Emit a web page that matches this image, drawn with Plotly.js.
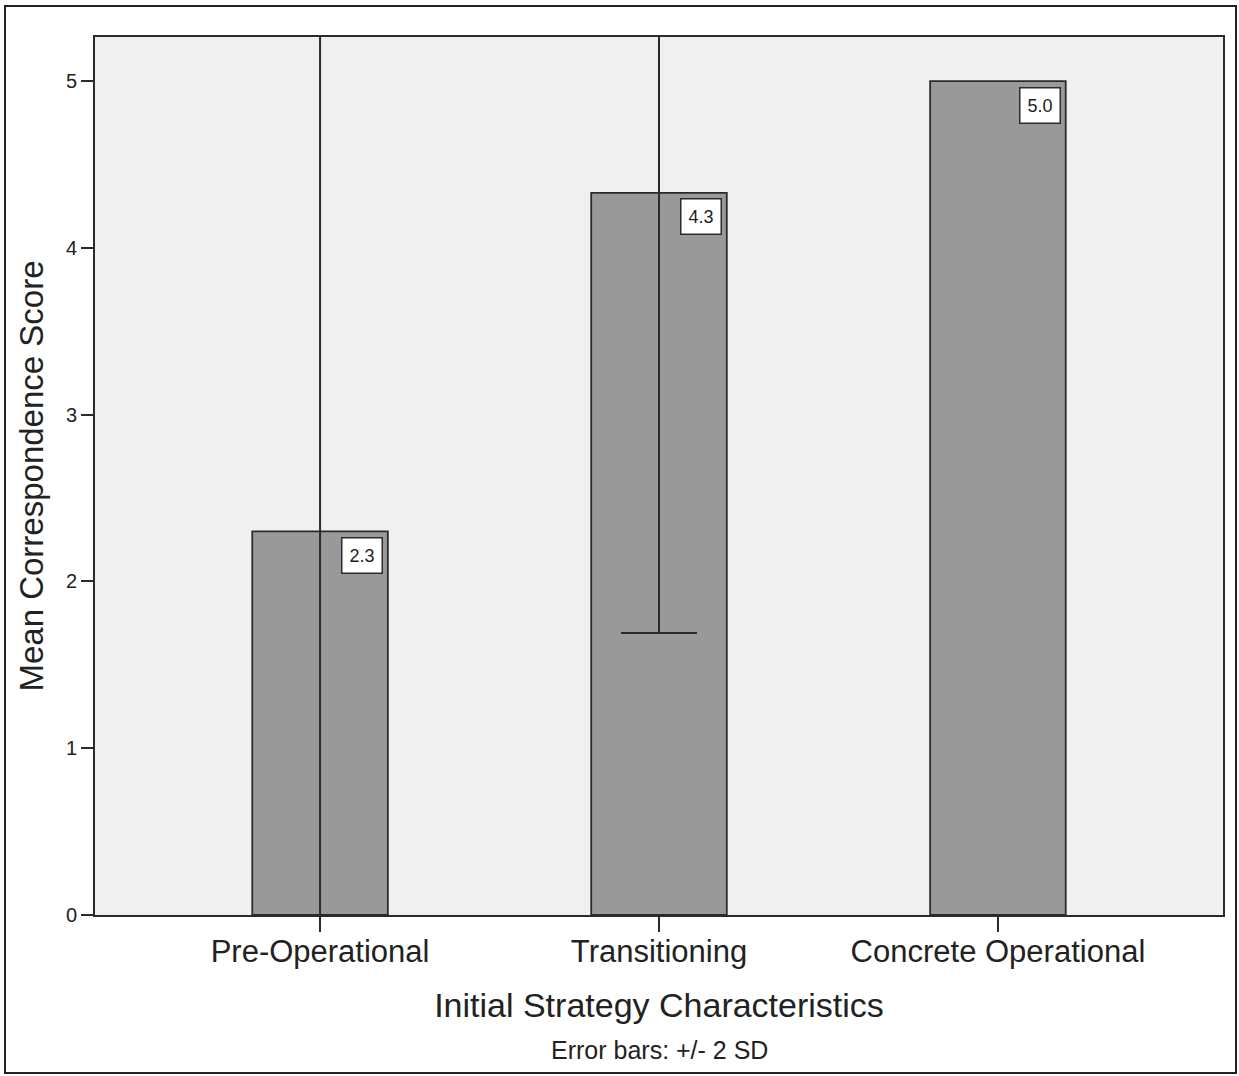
<!DOCTYPE html>
<html>
<head>
<meta charset="utf-8">
<script src="https://cdn.plot.ly/plotly-3.0.1.min.js"></script>
<style>
  html, body { margin: 0; padding: 0; background: #fff; }
  #wrap { position: relative; width: 1239px; height: 1076px; }
  #chart { position: absolute; left: 0; top: 0; width: 1239px; height: 1076px; }
  #frame { position: absolute; left: 4px; top: 5px; width: 1229px; height: 1065px;
           border: 2px solid #222; pointer-events: none; }
</style>
</head>
<body>
<div id="wrap">
  <div id="chart"></div>
  <div id="frame"></div>
</div>
<script>
// Data
const categories = ["Pre-Operational", "Transitioning", "Concrete Operational"];
const meanScores = [2.30, 4.33, 5.00];
const twoSD = [3.20, 2.64, NaN];          // +/- 2 SD (Concrete Operational has none)
const valueLabels = ["2.3", "4.3", "5.0"];
const yTickVals = [0, 1, 2, 3, 4, 5];

const dark = "#2b2b2b";
const fontFam = "Liberation Sans, Arial, sans-serif";

const trace = {
  type: "bar",
  x: categories,
  y: meanScores,
  width: 0.4,
  marker: { color: "#999999", line: { color: dark, width: 1.8 } },
  error_y: {
    type: "data",
    array: twoSD,
    symmetric: true,
    visible: true,
    color: dark,
    thickness: 2,
    width: 38
  },
  hoverinfo: "x+y"
};

const annotations = categories.map((c, i) => ({
  x: c, y: meanScores[i], xref: "x", yref: "y",
  text: valueLabels[i],
  showarrow: false,
  xanchor: "center", yanchor: "middle",
  xshift: 42, yshift: -24,
  bgcolor: "#ffffff",
  bordercolor: dark,
  borderwidth: 1.5,
  borderpad: 7,
  font: { family: fontFam, size: 18, color: "#222" }
}));

annotations.push({
  xref: "paper", yref: "paper",
  x: 0.5, y: 0, yshift: -135,
  xanchor: "center", yanchor: "middle",
  text: "Error bars: +/- 2 SD",
  showarrow: false,
  font: { family: fontFam, size: 25, color: "#222" }
});

const layout = {
  width: 1239, height: 1076,
  margin: { l: 95, r: 16, t: 37, b: 161 },
  paper_bgcolor: "#ffffff",
  plot_bgcolor: "#f0f0f0",
  showlegend: false,
  font: { family: fontFam, color: "#222" },
  xaxis: {
    type: "category",
    range: [-0.664, 2.664],
    showline: true, linecolor: dark, linewidth: 2, mirror: true,
    ticks: "outside", ticklen: 15, tickwidth: 2, tickcolor: dark,
    ticklabelstandoff: -7,
    showgrid: false, zeroline: false,
    tickfont: { family: fontFam, size: 31, color: "#222" },
    title: { text: "Initial Strategy Characteristics", standoff: 25,
             font: { family: fontFam, size: 34, color: "#222" } }
  },
  yaxis: {
    range: [0, 5.264],
    tickvals: yTickVals,
    showline: true, linecolor: dark, linewidth: 2, mirror: true,
    ticks: "outside", ticklen: 12, tickwidth: 2, tickcolor: dark,
    showgrid: false, zeroline: false,
    tickfont: { family: fontFam, size: 20, color: "#222" },
    title: { text: "Mean Correspondence Score", standoff: 12,
             font: { family: fontFam, size: 33, color: "#222" } }
  },
  annotations: annotations
};

Plotly.newPlot("chart", [trace], layout, { displayModeBar: false, staticPlot: true });
</script>
</body>
</html>
